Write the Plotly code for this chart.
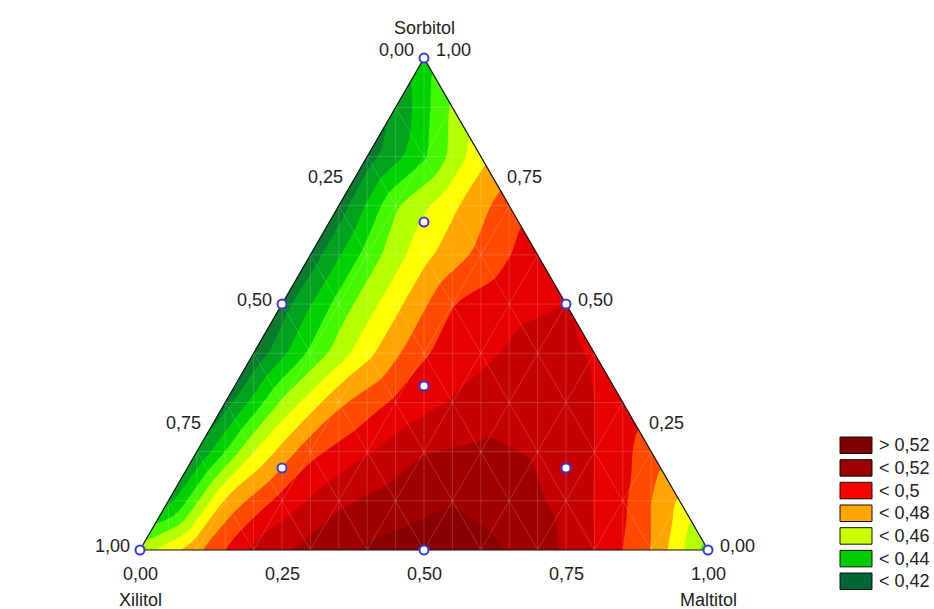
import numpy as np
import plotly.graph_objects as go

# ---------------- data ----------------
# Response surface on a simplex lattice (step 0.1).
# One list per Sorbitol level; inside a list Maltitol goes 0.0, 0.1, ... up to 1-Sorbitol.
sorbitol_levels = [0.0, 0.1, 0.2, 0.3, 0.4, 0.5, 0.6, 0.7, 0.8, 0.9, 1.0]
z_s00 = [0.455, 0.478, 0.503, 0.514, 0.5215, 0.525, 0.523, 0.516, 0.500, 0.480, 0.445]
z_s01 = [0.425, 0.472, 0.494, 0.508, 0.515, 0.5195, 0.515, 0.507, 0.492, 0.468]
z_s02 = [0.420, 0.460, 0.487, 0.499, 0.5095, 0.512, 0.509, 0.500, 0.485]
z_s03 = [0.415, 0.452, 0.478, 0.492, 0.501, 0.506, 0.505, 0.495]
z_s04 = [0.412, 0.442, 0.467, 0.489, 0.498, 0.504, 0.499]
z_s05 = [0.415, 0.444, 0.467, 0.490, 0.497, 0.500]
z_s06 = [0.414, 0.444, 0.467, 0.483, 0.496]
z_s07 = [0.414, 0.449, 0.468, 0.486]
z_s08 = [0.415, 0.438, 0.467]
z_s09 = [0.421, 0.452]
z_s10 = [0.436]
lattice_rows = [z_s00, z_s01, z_s02, z_s03, z_s04, z_s05, z_s06, z_s07, z_s08, z_s09, z_s10]

# design points (Xilitol, Maltitol, Sorbitol)
pt_xilitol = [1, 0, 0, 0.5, 0.5, 0, 1/3, 2/3, 1/6, 1/6]
pt_maltitol = [0, 1, 0, 0.5, 0, 0.5, 1/3, 1/6, 2/3, 1/6]
pt_sorbitol = [0, 0, 1, 0, 0.5, 0.5, 1/3, 1/6, 1/6, 2/3]

# contour levels and band colours (lowest band first)
level_start, level_end, level_step = 0.41, 0.52, 0.01
band_colors = ["#0a6a2c", "#0a7a2e", "#00a21e", "#00d200", "#44f800", "#b4ff00",
               "#ffff00", "#ffa500", "#ff4a00", "#e60000", "#c40000", "#a00000", "#880000"]

# legend
legend_labels = ["> 0,52", "< 0,52", "< 0,5", "< 0,48", "< 0,46", "< 0,44", "< 0,42"]
legend_colors = ["#7f0000", "#9c0000", "#ff0000", "#ffa500", "#ccff00", "#00cc00", "#006633"]

# axis ticks
tick_values = [0.0, 0.25, 0.5, 0.75, 1.0]
tick_labels = ["0,00", "0,25", "0,50", "0,75", "1,00"]
axis_names = {"top": "Sorbitol", "left": "Xilitol", "right": "Maltitol"}

# ---------------- geometry ----------------
H = np.sqrt(3) / 2
W_PX, H_PX = 934, 609
PX_PER_UNIT = 568.0
ORIGIN_PX = (140.0, 550.0)


def tern_to_xy(m, s):
    return m + s / 2.0, s * H


# lattice -> full grid for rendering (linear on the simplex mesh, lightly smoothed)
N = 10
Z = np.zeros((N + 1, N + 1))
for j, row in enumerate(lattice_rows):
    for i in range(N + 1):
        Z[j, i] = row[min(i, len(row) - 1)]

xs = np.linspace(0, 1, 321)
ys = np.linspace(0, H, 279)
XX, YY = np.meshgrid(xs, ys)
S = np.clip(YY / H, 0, 1)
M = np.clip(XX - S / 2, 0, 1)
tot = M + S
sc = np.where(tot > 1, 1 / np.maximum(tot, 1e-9), 1.0)
M = M * sc
S = S * sc
a = M * N
b = S * N
ii = np.clip(np.floor(a).astype(int), 0, N - 1)
jj = np.clip(np.floor(b).astype(int), 0, N - 1)
fa = a - ii
fb = b - jj
z_up = Z[jj, ii] * (1 - fa - fb) + Z[jj, ii + 1] * fa + Z[jj + 1, ii] * fb
z_dn = Z[jj + 1, ii + 1] * (fa + fb - 1) + Z[jj + 1, ii] * (1 - fa) + Z[jj, ii + 1] * (1 - fb)
zz = np.where(fa + fb <= 1, z_up, z_dn)

sigma = 3.0
r = int(3 * sigma)
kern = np.exp(-0.5 * (np.arange(-r, r + 1) / sigma) ** 2)
kern /= kern.sum()
pad = np.pad(zz, r, mode="edge")
tmp = sum(kern[k] * pad[:, k:k + pad.shape[1] - 2 * r] for k in range(2 * r + 1))
zz = sum(kern[k] * tmp[k:k + tmp.shape[0] - 2 * r, :] for k in range(2 * r + 1))

# stepped colour scale matched to plotly's fill colouring
nc = len(band_colors) - 1
cscale = []
for k, c in enumerate(band_colors):
    cscale.append([max(0.0, (k - 0.5) / nc), c])
    cscale.append([min(1.0, (k + 0.5) / nc), c])

fig = go.Figure()
fig.add_trace(go.Contour(
    x=xs, y=ys, z=zz,
    autocontour=False,
    contours=dict(start=level_start, end=level_end, size=level_step,
                  coloring="fill", showlines=False),
    colorscale=cscale, showscale=False, line=dict(width=0, smoothing=1),
    hoverinfo="skip",
))

# faint mesh lines like the original renderer
mx, my = [], []
for k in range(1, 10):
    s = k / 10
    x0, y0 = tern_to_xy(0, s)
    x1, y1 = tern_to_xy(1 - s, s)
    mx += [x0, x1, None]; my += [y0, y1, None]
    x0, y0 = tern_to_xy(1 - s, 0)
    x1, y1 = tern_to_xy(0, 1 - s)
    mx += [x0, x1, None]; my += [y0, y1, None]
    x0, y0 = tern_to_xy(s, 0)
    x1, y1 = tern_to_xy(s, 1 - s)
    mx += [x0, x1, None]; my += [y0, y1, None]
for k in range(1, 20):
    v = k / 20
    top = 2 * v * H if v <= 0.5 else 2 * (1 - v) * H
    mx += [v, v, None]; my += [0, top, None]
fig.add_trace(go.Scatter(x=mx, y=my, mode="lines",
                         line=dict(color="rgba(255,255,255,0.22)", width=0.8),
                         hoverinfo="skip"))

# white masks outside the triangle
e = 0.03
fig.add_trace(go.Scatter(x=[0, -e, -e, 0.5, 0.5, 0], y=[0, 0, H + e, H + e, H, 0],
                         mode="lines", fill="toself", fillcolor="white",
                         line=dict(width=0, color="white"), hoverinfo="skip"))
fig.add_trace(go.Scatter(x=[1, 1 + e, 1 + e, 0.5, 0.5, 1], y=[0, 0, H + e, H + e, H, 0],
                         mode="lines", fill="toself", fillcolor="white",
                         line=dict(width=0, color="white"), hoverinfo="skip"))

# triangle outline
fig.add_trace(go.Scatter(x=[0, 0.5, 1, 0], y=[0, H, 0, 0], mode="lines",
                         line=dict(color="#111111", width=1.2), hoverinfo="skip"))

# design points
px_, py_ = tern_to_xy(np.array(pt_maltitol), np.array(pt_sorbitol))
fig.add_trace(go.Scatter(x=px_, y=py_, mode="markers", cliponaxis=False,
                         marker=dict(size=9, color="white",
                                     line=dict(color="#3a3ad6", width=2)),
                         hoverinfo="skip"))

FONT = dict(family="Liberation Sans, Arial, sans-serif", size=18, color="#222222")
ann = []
for v, lab in zip(tick_values, tick_labels):
    x, y = tern_to_xy(0, 1 - v)          # Xilitol (left edge)
    ann.append(dict(x=x, y=y, text=lab, showarrow=False, xanchor="right", yanchor="middle",
                    xshift=-8, yshift=8 if v == 0 else 4, font=FONT))
    x, y = tern_to_xy(1 - v, v)          # Sorbitol (right edge)
    ann.append(dict(x=x, y=y, text=lab, showarrow=False, xanchor="left", yanchor="middle",
                    xshift=10, yshift=8 if v == 1 else 4, font=FONT))
    x, y = tern_to_xy(v, 0)              # Maltitol (bottom edge)
    ann.append(dict(x=x, y=y, text=lab, showarrow=False, xanchor="center", yanchor="top",
                    yshift=-12, font=FONT))

x, y = tern_to_xy(0, 1)
ann.append(dict(x=x, y=y, text=axis_names["top"], showarrow=False, xanchor="center",
                yanchor="bottom", yshift=18, font=FONT))
x, y = tern_to_xy(0, 0)
ann.append(dict(x=x, y=y, text=axis_names["left"], showarrow=False, xanchor="center",
                yanchor="top", yshift=-38, font=FONT))
x, y = tern_to_xy(1, 0)
ann.append(dict(x=x, y=y, text=axis_names["right"], showarrow=False, xanchor="center",
                yanchor="top", yshift=-38, font=FONT))

# legend (paper coordinates)
shapes = []
box_left, box_right = 840 / W_PX, 872 / W_PX
first_top, pitch, box_h = 437.0, 22.67, 16.5
for k, (lab, col) in enumerate(zip(legend_labels, legend_colors)):
    top = first_top + k * pitch
    shapes.append(dict(type="rect", xref="paper", yref="paper",
                       x0=box_left, x1=box_right,
                       y0=1 - (top + box_h) / H_PX, y1=1 - top / H_PX,
                       fillcolor=col, line=dict(color="#111111", width=1)))
    ann.append(dict(xref="paper", yref="paper", x=877 / W_PX,
                    y=1 - (top + box_h / 2) / H_PX, text=lab, showarrow=False,
                    xanchor="left", yanchor="middle", font=FONT))

fig.update_layout(
    width=W_PX, height=H_PX, autosize=False,
    margin=dict(l=0, r=0, t=0, b=0),
    paper_bgcolor="white", plot_bgcolor="white",
    showlegend=False, hovermode=False,
    xaxis=dict(visible=False, range=[-ORIGIN_PX[0] / PX_PER_UNIT, (W_PX - ORIGIN_PX[0]) / PX_PER_UNIT]),
    yaxis=dict(visible=False, range=[-(H_PX - ORIGIN_PX[1]) / PX_PER_UNIT, ORIGIN_PX[1] / PX_PER_UNIT]),
    annotations=ann, shapes=shapes,
    font=FONT,
)
fig.write_html(
    "out.html",
    config={"displayModeBar": False, "staticPlot": True},
    post_script="document.body.style.margin='0px';"
                "document.documentElement.style.overflow='hidden';"
                "document.body.style.overflow='hidden';",
)
